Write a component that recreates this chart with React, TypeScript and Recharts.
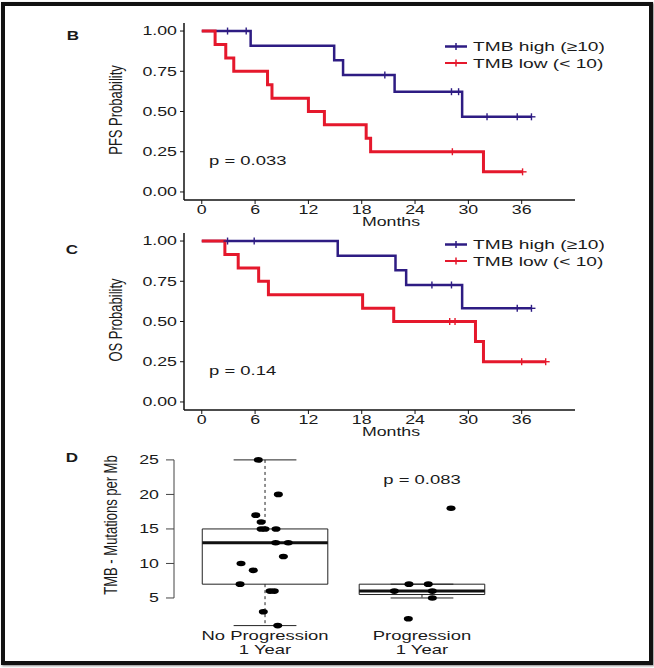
import React from "react"
import {
  ComposedChart,
  Line,
  Scatter,
  XAxis,
  YAxis,
  Legend,
  ReferenceArea,
  ReferenceLine,
} from "recharts"

// the source figure is stretched sideways, so text gets a horizontal scale
const S = 1.42
const FONT = "'Liberation Sans', Arial, Helvetica, sans-serif"
const HIGH = "#2E1C83"
const LOW = "#E5182C"
const INK = "#1a1a1a"

const monthTicks = [0, 6, 12, 18, 24, 30, 36]
const probTicks = [0, 0.25, 0.5, 0.75, 1]
const groupNames = ["TMB high (\u226510)", "TMB low (< 10)"]
const groupColors = [HIGH, LOW]

// PFS (panel B)
const pfsHighTime = [0, 5.5, 14.9, 15.9, 21.7, 29.3, 37.1]
const pfsHighSurv = [1, 0.909, 0.818, 0.727, 0.623, 0.467, 0.467]
const pfsHighCensor = [2.9, 5.0, 20.6, 28.1, 28.9, 32.1, 35.5, 37.1]
const pfsLowTime = [0, 1.5, 2.7, 3.6, 7.4, 7.9, 12, 13.8, 18.5, 19, 31.7, 36.1]
const pfsLowSurv = [1, 0.917, 0.833, 0.75, 0.667, 0.583, 0.5, 0.417, 0.333, 0.25, 0.125, 0.125]
const pfsLowCensor = [28.2, 36.1]

// OS (panel C)
const osHighTime = [0, 15.3, 21.8, 23, 29.3, 37.1]
const osHighSurv = [1, 0.909, 0.818, 0.727, 0.582, 0.582]
const osHighCensor = [2.9, 5.9, 25.9, 28.1, 35.5, 37.1]
const osLowTime = [0, 2.6, 4.1, 6.4, 7.5, 18.1, 21.6, 30.8, 31.7, 38.7]
const osLowSurv = [1, 0.917, 0.833, 0.75, 0.667, 0.583, 0.5, 0.375, 0.25, 0.25]
const osLowCensor = [27.9, 28.5, 36, 38.7]

// TMB boxplot (panel D)
const boxGroups = ["No Progression", "Progression"]
const boxSub = "1 Year"
const boxLow = [1, 5]
const boxQ1 = [7, 5.5]
const boxMed = [13, 6]
const boxQ3 = [15, 7]
const boxHigh = [25, 7]
const tmbTicks = [5, 10, 15, 20, 25]
const noProgTmb = [25, 20, 17, 16, 15, 15, 15, 13, 13, 11, 10, 9, 7, 6, 6, 3, 1]
const noProgJitter = [-0.043, 0.085, -0.059, -0.025, -0.025, 0, 0.07, 0.068, 0.148, 0.117, -0.153, -0.075, -0.159, 0.032, 0.059, -0.011, 0.081]
const progTmb = [18, 7, 7, 6, 6, 5, 2]
const progJitter = [0.185, -0.083, 0.04, -0.176, 0.066, 0.066, -0.087]

function stepAt(time: number[], surv: number[], t: number) {
  let v = surv[0]
  for (let i = 0; i < time.length; i++) if (time[i] <= t) v = surv[i]
  return v
}
const curve = (time: number[], surv: number[]) => time.map((t, i) => ({ t, s: surv[i] }))
const marks = (time: number[], surv: number[], censor: number[]) =>
  censor.map((t) => ({ t, s: stepAt(time, surv, t) }))

const dots = [
  ...noProgTmb.map((y, i) => ({ x: 1 + noProgJitter[i], y })),
  ...progTmb.map((y, i) => ({ x: 2 + progJitter[i], y })),
]

const plus = (color: string) => (p: any) => (
  <g>
    <line x1={p.cx - 4} x2={p.cx + 4} y1={p.cy} y2={p.cy} stroke={color} strokeWidth={1.4} />
    <line x1={p.cx} x2={p.cx} y1={p.cy - 3.5} y2={p.cy + 3.5} stroke={color} strokeWidth={1.4} />
  </g>
)

const dot = (p: any) => <ellipse cx={p.cx} cy={p.cy} rx={4.5} ry={2.8} fill="#000" />

function SText({ x, y, size = 12.5, anchor = "start", bold = false, rotate = false, children }: any) {
  const tf = `translate(${x} ${y}) scale(${S} 1)${rotate ? " rotate(-90)" : ""}`
  return (
    <text transform={tf} textAnchor={anchor} fontSize={size} fontFamily={FONT} fontWeight={bold ? 700 : 400} fill={INK}>
      {children}
    </text>
  )
}

const xTick = (p: any) => (
  <SText x={p.x} y={p.y + 9} anchor="middle">{p.payload.value}</SText>
)
const yTick = (p: any) => (
  <SText x={p.x} y={p.y + 4.4} anchor="end">{Number(p.payload.value).toFixed(2)}</SText>
)
const yTickD = (p: any) => (
  <SText x={p.x} y={p.y + 4.4} anchor="end">{p.payload.value}</SText>
)
const catTick = (p: any) => (
  <g>
    <SText x={p.x} y={p.y + 7} size={13} anchor="middle">{boxGroups[p.payload.value - 1]}</SText>
    <SText x={p.x} y={p.y + 21.5} size={13} anchor="middle">{boxSub}</SText>
  </g>
)

const kmLegend = () => (
  <svg width={164} height={36} style={{ display: "block" }}>
    {groupNames.map((n, i) => {
      const y = 10.5 + i * 16.5
      return (
        <g key={n}>
          <line x1={5} x2={27} y1={y} y2={y} stroke={groupColors[i]} strokeWidth={i === 0 ? 2.5 : 2} />
          <line x1={16} x2={16} y1={y - 3.5} y2={y + 3.5} stroke={groupColors[i]} strokeWidth={1.5} />
          <SText x={33} y={y + 4.8} size={13.5}>{n}</SText>
        </g>
      )
    })}
  </svg>
)

function KmPanel({ top, high, low, highCensor, lowCensor, legendTop }: any) {
  return (
    <div style={{ position: "absolute", left: 0, top }}>
      <ComposedChart width={654} height={230} margin={{ top: 23, right: 79, bottom: 0, left: 0 }}>
        <XAxis
          dataKey="t"
          type="number"
          domain={[-2, 42]}
          ticks={monthTicks}
          interval={0}
          allowDataOverflow
          height={30}
          tickSize={4}
          tickMargin={1}
          axisLine={{ stroke: "#111", strokeWidth: 1.5 }}
          tickLine={{ stroke: "#111" }}
          tick={xTick}
        />
        <YAxis
          type="number"
          domain={[-0.05, 1.05]}
          ticks={probTicks}
          interval={0}
          allowDataOverflow
          width={184}
          tickSize={4}
          tickMargin={3}
          axisLine={{ stroke: "#111", strokeWidth: 1.5 }}
          tickLine={{ stroke: "#111" }}
          tick={yTick}
        />
        <Line data={high} dataKey="s" type="stepAfter" stroke={HIGH} strokeWidth={2.5} dot={false} isAnimationActive={false} />
        <Scatter data={highCensor} dataKey="s" shape={plus(HIGH)} isAnimationActive={false} />
        <Line data={low} dataKey="s" type="stepAfter" stroke={LOW} strokeWidth={3} dot={false} isAnimationActive={false} />
        <Scatter data={lowCensor} dataKey="s" shape={plus(LOW)} isAnimationActive={false} />
        <Legend
          layout="horizontal"
          verticalAlign="middle"
          align="center"
          content={kmLegend}
          wrapperStyle={{ left: 440, top: legendTop, width: 164, height: 36 }}
        />
      </ComposedChart>
    </div>
  )
}

export default function App() {
  return (
    <div style={{ position: "absolute", left: 0, top: 0, width: 654, height: 668, background: "#fff", overflow: "hidden" }}>
      <KmPanel
        top={0}
        high={curve(pfsHighTime, pfsHighSurv)}
        low={curve(pfsLowTime, pfsLowSurv)}
        highCensor={marks(pfsHighTime, pfsHighSurv, pfsHighCensor)}
        lowCensor={marks(pfsLowTime, pfsLowSurv, pfsLowCensor)}
        legendTop={36}
      />
      <KmPanel
        top={210}
        high={curve(osHighTime, osHighSurv)}
        low={curve(osLowTime, osLowSurv)}
        highCensor={marks(osHighTime, osHighSurv, osHighCensor)}
        lowCensor={marks(osLowTime, osLowSurv, osLowCensor)}
        legendTop={24}
      />
      <div style={{ position: "absolute", left: 0, top: 430 }}>
        <ComposedChart width={654} height={235} margin={{ top: 23, right: 141, bottom: 0, left: 0 }}>
          <XAxis
            dataKey="x"
            type="number"
            domain={[0.42, 2.58]}
            ticks={[1, 2]}
            interval={0}
            allowDataOverflow
            height={32.5}
            axisLine={false}
            tickLine={false}
            tickSize={0}
            tickMargin={0}
            tick={catTick}
          />
          <YAxis
            type="number"
            domain={[0, 26]}
            ticks={tmbTicks}
            interval={0}
            allowDataOverflow
            width={174}
            axisLine={false}
            tickSize={8}
            tickMargin={7}
            tickLine={{ stroke: "#444" }}
            tick={yTickD}
          />
          <ReferenceLine segment={[{ x: 0.42, y: 5 }, { x: 0.42, y: 25 }]} stroke="#444" ifOverflow="visible" />
          {boxGroups.map((g, i) => {
            const c = i + 1
            return (
              <React.Fragment key={g}>
                <ReferenceArea x1={c - 0.4} x2={c + 0.4} y1={boxQ1[i]} y2={boxQ3[i]} fill="none" stroke="#222" strokeWidth={1} ifOverflow="visible" />
                <ReferenceLine segment={[{ x: c, y: boxQ3[i] }, { x: c, y: boxHigh[i] }]} stroke="#222" strokeDasharray="3 3" ifOverflow="visible" />
                <ReferenceLine segment={[{ x: c, y: boxQ1[i] }, { x: c, y: boxLow[i] }]} stroke="#222" strokeDasharray="3 3" ifOverflow="visible" />
                <ReferenceLine segment={[{ x: c - 0.2, y: boxHigh[i] }, { x: c + 0.2, y: boxHigh[i] }]} stroke="#222" ifOverflow="visible" />
                <ReferenceLine segment={[{ x: c - 0.2, y: boxLow[i] }, { x: c + 0.2, y: boxLow[i] }]} stroke="#222" ifOverflow="visible" />
                <ReferenceLine segment={[{ x: c - 0.4, y: boxMed[i] }, { x: c + 0.4, y: boxMed[i] }]} stroke="#111" strokeWidth={3} ifOverflow="visible" />
              </React.Fragment>
            )
          })}
          <Scatter data={dots} dataKey="y" shape={dot} isAnimationActive={false} />
        </ComposedChart>
      </div>
      <svg width={654} height={668} style={{ position: "absolute", left: 0, top: 0, pointerEvents: "none" }}>
        <SText x={73} y={39.5} size={12} bold anchor="middle">B</SText>
        <SText x={72} y={253.5} size={12} bold anchor="middle">C</SText>
        <SText x={72} y={461.5} size={12} bold anchor="middle">D</SText>
        <SText x={122} y={110} size={13} anchor="middle" rotate>PFS Probability</SText>
        <SText x={122} y={320} size={13} anchor="middle" rotate>OS Probability</SText>
        <SText x={117} y={525} size={13} anchor="middle" rotate>TMB - Mutations per Mb</SText>
        <SText x={209} y={165} size={13}>p = 0.033</SText>
        <SText x={209} y={374.5} size={13}>p = 0.14</SText>
        <SText x={422} y={483.5} size={13} anchor="middle">p = 0.083</SText>
        <SText x={391} y={226} anchor="middle">Months</SText>
        <SText x={391} y={436} anchor="middle">Months</SText>
      </svg>
      <div
        style={{
          position: "absolute",
          left: 1,
          top: 2,
          width: 652,
          height: 663,
          boxSizing: "border-box",
          border: "4px solid #111",
          boxShadow: "1px 1px 2px #888",
        }}
      />
    </div>
  )
}
